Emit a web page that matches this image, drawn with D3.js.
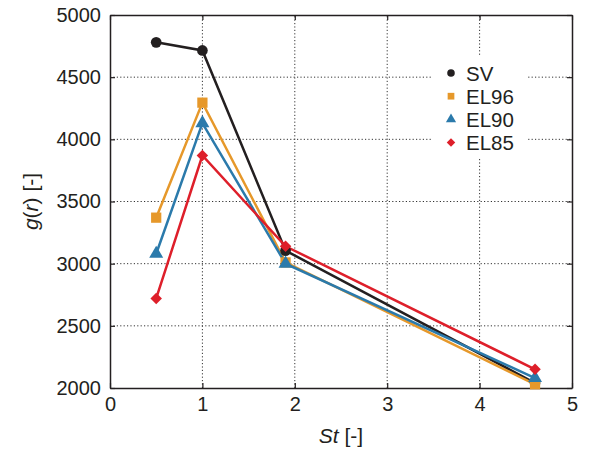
<!DOCTYPE html>
<html>
<head>
<meta charset="utf-8">
<script src="https://cdn.jsdelivr.net/npm/d3@7"></script>
<style>
  html, body { margin: 0; padding: 0; background: #fff; }
  svg { display: block; font-family: "Liberation Sans", Arial, sans-serif; }
</style>
</head>
<body>
<svg id="chart" width="589" height="455"></svg>
<script>
// Stokes numbers and g(r) for each case
const stValues = [0.5, 1.0, 1.9, 4.6];
const seriesNames = ["SV", "EL96", "EL90", "EL85"];
const svValues   = [4780, 4715, 3105, 2040];
const el96Values = [3370, 4295, 3010, 2030];
const el90Values = [3080, 4130, 3000, 2080];
const el85Values = [2720, 3870, 3140, 2150];
const xTicks = [0, 1, 2, 3, 4, 5];
const yTicks = [2000, 2500, 3000, 3500, 4000, 4500, 5000];

const colors = { SV: "#231f20", EL96: "#e6982a", EL90: "#2b7aab", EL85: "#de1f2a" };
// diamond drawn as a square turned by 45 degrees
const symbols = { SV: d3.symbolCircle, EL96: d3.symbolSquare, EL90: d3.symbolTriangle, EL85: d3.symbolSquare };
const symRotate = { SV: 0, EL96: 0, EL90: 0, EL85: 45 };
const symSize = { SV: 90, EL96: 105, EL90: 85, EL85: 66 };
const values = { SV: svValues, EL96: el96Values, EL90: el90Values, EL85: el85Values };

const margin = { left: 110, right: 17, top: 15, bottom: 67 };
const W = 589, H = 455;
const svg = d3.select("#chart");

const x = d3.scaleLinear().domain([0, 5]).range([margin.left, W - margin.right]);
const y = d3.scaleLinear().domain([2000, 5000]).range([H - margin.bottom, margin.top]);

// dotted grid
const grid = svg.append("g").attr("stroke", "#333").attr("stroke-width", 1)
  .attr("stroke-dasharray", "1.2,2.2");
grid.selectAll("line.gx").data(xTicks.slice(1, -1)).join("line")
  .attr("x1", d => x(d)).attr("x2", d => x(d))
  .attr("y1", y(2000)).attr("y2", y(5000));
grid.selectAll("line.gy").data(yTicks.slice(1, -1)).join("line")
  .attr("x1", x(0)).attr("x2", x(5))
  .attr("y1", d => y(d)).attr("y2", d => y(d));

// axes with inward ticks on all four sides
const tickLen = 5;
const axB = svg.append("g").attr("transform", `translate(0,${y(2000)})`)
  .call(d3.axisBottom(x).tickValues(xTicks).tickSizeInner(-tickLen).tickSizeOuter(0).tickPadding(9).tickFormat(d3.format("d")));
const axL = svg.append("g").attr("transform", `translate(${x(0)},0)`)
  .call(d3.axisLeft(y).tickValues(yTicks).tickSizeInner(-tickLen).tickSizeOuter(0).tickPadding(9).tickFormat(d3.format("d")));
const axT = svg.append("g").attr("transform", `translate(0,${y(5000)})`)
  .call(d3.axisTop(x).tickValues(xTicks).tickSizeInner(-tickLen).tickSizeOuter(0).tickFormat(""));
const axR = svg.append("g").attr("transform", `translate(${x(5)},0)`)
  .call(d3.axisRight(y).tickValues(yTicks).tickSizeInner(-tickLen).tickSizeOuter(0).tickFormat(""));
[axB, axL, axT, axR].forEach(a => {
  a.select(".domain").attr("stroke", "#231f20").attr("stroke-width", 1.5);
  a.selectAll(".tick line").attr("stroke", "#231f20").attr("stroke-width", 1.2);
  a.selectAll("text").attr("font-size", 20).attr("fill", "#231f20")
    .attr("font-family", "'Liberation Sans', Arial, sans-serif");
});

// series lines and markers
const line = d3.line().x((d, i) => x(stValues[i])).y(d => y(d));
const plot = svg.append("g");
seriesNames.forEach(name => {
  plot.append("path").datum(values[name])
    .attr("d", line).attr("fill", "none")
    .attr("stroke", colors[name]).attr("stroke-width", 2.5);
});
seriesNames.forEach(name => {
  plot.selectAll(null).data(values[name]).join("path")
    .attr("transform", (d, i) => `translate(${x(stValues[i])},${y(d)}) rotate(${symRotate[name]})`)
    .attr("d", d3.symbol().type(symbols[name]).size(symSize[name]))
    .attr("fill", colors[name]);
});

// legend
const leg = svg.append("g");
leg.append("rect").attr("x", 432).attr("y", 56).attr("width", 96).attr("height", 101).attr("fill", "#fff");
seriesNames.forEach((name, i) => {
  const cy = 73 + i * 23.2;
  leg.append("path").attr("transform", `translate(451,${cy}) rotate(${symRotate[name]})`)
    .attr("d", d3.symbol().type(symbols[name]).size(symRotate[name] ? 36 : 45)).attr("fill", colors[name]);
  leg.append("text").attr("x", 466).attr("y", cy + 7.5)
    .attr("font-size", 20.5).attr("fill", "#231f20").text(name);
});

// axis titles
const xt = svg.append("text").attr("x", (x(0) + x(5)) / 2).attr("y", 443)
  .attr("text-anchor", "middle").attr("font-size", 21).attr("fill", "#231f20");
xt.append("tspan").attr("font-style", "italic").text("St");
xt.append("tspan").text(" [-]");

const yt = svg.append("text").attr("transform", `translate(38,${(y(2000) + y(5000)) / 2}) rotate(-90)`)
  .attr("text-anchor", "middle").attr("font-size", 21).attr("fill", "#231f20");
yt.append("tspan").attr("font-style", "italic").text("g");
yt.append("tspan").text("(");
yt.append("tspan").attr("font-style", "italic").text("r");
yt.append("tspan").text(") [-]");
</script>
</body>
</html>
